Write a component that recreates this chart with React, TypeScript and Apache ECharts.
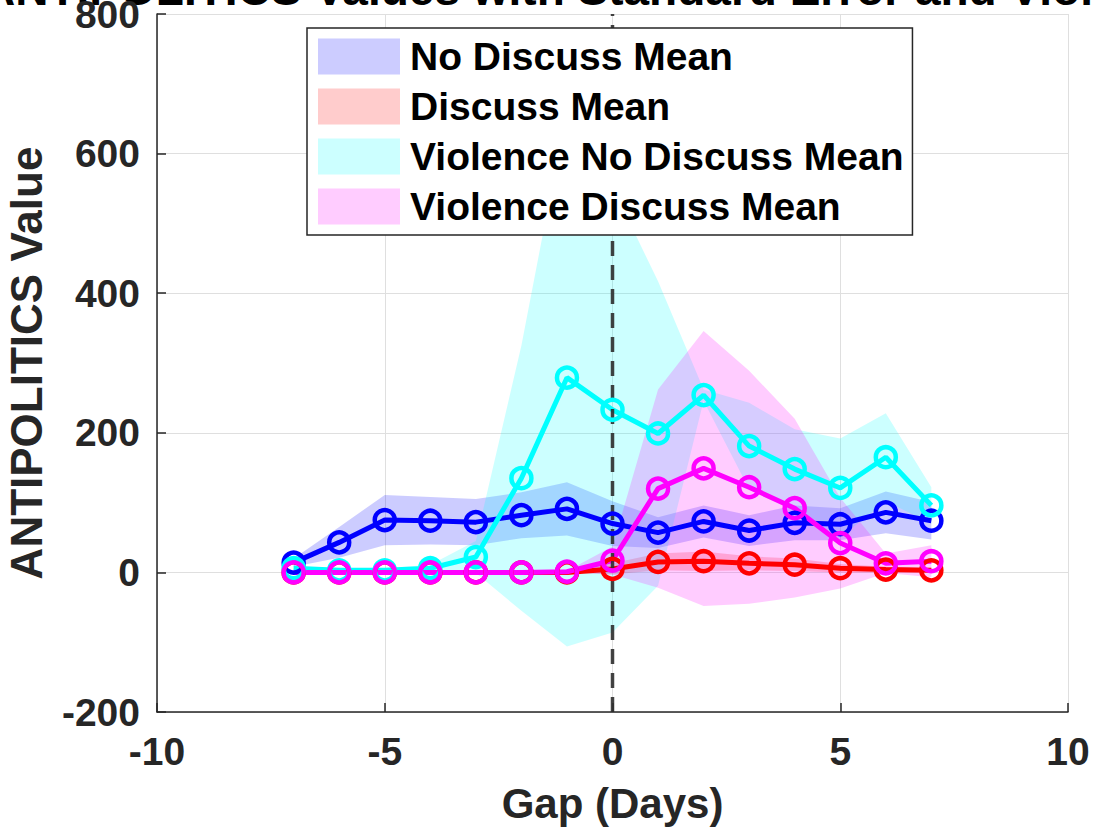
import React, { useEffect, useRef } from "react";
import * as echarts from "echarts";

const xs = [-7, -6, -5, -4, -3, -2, -1, 0, 1, 2, 3, 4, 5, 6, 7];

const noDiscussMean = [14, 43, 75, 74, 72, 82, 91, 70, 57, 73, 60, 71, 69, 86, 74];
const noDiscussSE = [6, 22, 36, 34, 33, 33, 38, 32, 22, 23, 22, 25, 23, 30, 27];

const discussMean = [0, 0, 0, 0, 0, 0, 0, 5, 15, 16, 13, 11, 6, 4, 3];
const discussSE = [0, 0, 0, 0, 0, 0, 0, 8, 12, 14, 10, 9, 6, 4, 3];

const violNoDiscussMean = [6, 3, 3, 6, 22, 135, 279, 233, 199, 254, 181, 148, 121, 165, 96];
const violNoDiscussSE = [3, 3, 3, 5, 23, 190, 385, 319, 218, 8, 62, 57, 71, 63, 26];

const violDiscussMean = [0, 0, 0, 0, 0, 0, 1, 17, 120, 149, 122, 92, 42, 13, 16];
const violDiscussSE = [0, 0, 0, 0, 0, 0, 1, 20, 142, 197, 167, 128, 65, 14, 23];

const legendNames = [
  "No Discuss Mean",
  "Discuss Mean",
  "Violence No Discuss Mean",
  "Violence Discuss Mean",
];

const xTicks = { min: -10, max: 10, interval: 5 };
const yTicks = { min: -200, max: 800, interval: 200 };

const titleText = "ANTIPOLITICS Values with Standard Error and Violence Days";

const SANS = '"Liberation Sans", Arial, Helvetica, sans-serif';
const AXCOL = "#262626";

function bandSeries(name: string, fill: string, solid: string, mean: number[], se: number[]) {
  const lower = mean.map((m, i) => m - se[i]);
  const upper = mean.map((m, i) => m + se[i]);
  return {
    type: "custom",
    name,
    silent: true,
    clip: true,
    itemStyle: { color: solid },
    encode: { x: 0, y: [1, 2] },
    data: xs.map((x, i) => [x, lower[i], upper[i]]),
    renderItem: (params: any, api: any) => {
      if (params.dataIndex !== 0) return null;
      const pts: number[][] = [];
      for (let i = 0; i < xs.length; i++) pts.push(api.coord([xs[i], upper[i]]));
      for (let i = xs.length - 1; i >= 0; i--) pts.push(api.coord([xs[i], lower[i]]));
      return { type: "polygon", shape: { points: pts }, style: { fill, stroke: "none" } };
    },
  };
}

function lineSeries(name: string, color: string, mean: number[]) {
  return {
    type: "line",
    name,
    data: xs.map((x, i) => [x, mean[i]]),
    symbol: "circle",
    symbolSize: 20,
    lineStyle: { color, width: 5 },
    itemStyle: { color: "rgba(0,0,0,0)", borderColor: color, borderWidth: 4.5 },
    emphasis: { disabled: true },
    silent: true,
  };
}

export default function App() {
  const ref = useRef<HTMLDivElement>(null);
  useEffect(() => {
    if (!ref.current) return;
    const chart = echarts.init(ref.current, undefined, { renderer: "svg" });
    const option: any = {
      animation: false,
      backgroundColor: "#ffffff",
      grid: { left: 157, right: 25, top: 14, bottom: 120, containLabel: false, outerBoundsMode: "none" },
      graphic: [
        {
          type: "text",
          x: -18,
          y: 12,
          z: 0,
          zlevel: 0,
          style: {
            text: titleText,
            fontSize: 46,
            fontWeight: "bold",
            fontFamily: SANS,
            fill: "#000000",
            verticalAlign: "bottom",
            align: "left",
          },
        },
      ],
      legend: {
        orient: "vertical",
        left: 307,
        top: 28,
        padding: [9, 9, 9, 11],
        itemWidth: 82,
        itemHeight: 36,
        itemGap: 11,
        icon: "rect",
        backgroundColor: "#ffffff",
        borderColor: AXCOL,
        borderWidth: 1.5,
        borderRadius: 0,
        selectedMode: false,
        textStyle: { fontSize: 39, fontWeight: "bold", fontFamily: SANS, color: "#000000", padding: [0, 0, 0, 5] },
        data: [
          { name: legendNames[0], itemStyle: { color: "#ccccff" } },
          { name: legendNames[1], itemStyle: { color: "#ffcccc" } },
          { name: legendNames[2], itemStyle: { color: "#ccffff" } },
          { name: legendNames[3], itemStyle: { color: "#ffccff" } },
        ],
        z: 50,
      },
      xAxis: {
        type: "value",
        min: xTicks.min,
        max: xTicks.max,
        interval: xTicks.interval,
        name: "Gap (Days)",
        nameLocation: "middle",
        nameGap: 70,
        nameTextStyle: { fontSize: 42, fontWeight: "bold", fontFamily: SANS, color: AXCOL },
        axisLine: { onZero: false, lineStyle: { color: AXCOL, width: 1.5 } },
        axisTick: { inside: true, length: 9, lineStyle: { color: AXCOL, width: 1.5 } },
        axisLabel: { fontSize: 39, fontWeight: "bold", fontFamily: SANS, color: AXCOL, margin: 20 },
        splitLine: { show: true, lineStyle: { color: "#dfdfdf", width: 1 } },
      },
      yAxis: {
        type: "value",
        min: yTicks.min,
        max: yTicks.max,
        interval: yTicks.interval,
        name: "ANTIPOLITICS Value",
        nameLocation: "middle",
        nameGap: 109,
        nameTextStyle: { fontSize: 44, fontWeight: "bold", fontFamily: SANS, color: AXCOL },
        axisLine: { show: true, onZero: false, lineStyle: { color: AXCOL, width: 1.5 } },
        axisTick: { show: true, inside: true, length: 9, lineStyle: { color: AXCOL, width: 1.5 } },
        axisLabel: { fontSize: 39, fontWeight: "bold", fontFamily: SANS, color: AXCOL, margin: 17 },
        splitLine: { show: true, lineStyle: { color: "#dfdfdf", width: 1 } },
      },
      series: [
        bandSeries(legendNames[0], "rgba(0,0,255,0.2)", "#ccccff", noDiscussMean, noDiscussSE),
        bandSeries(legendNames[1], "rgba(255,0,0,0.2)", "#ffcccc", discussMean, discussSE),
        bandSeries(legendNames[2], "rgba(0,255,255,0.2)", "#ccffff", violNoDiscussMean, violNoDiscussSE),
        bandSeries(legendNames[3], "rgba(255,0,255,0.2)", "#ffccff", violDiscussMean, violDiscussSE),
        lineSeries("nd-line", "#0000ff", noDiscussMean),
        lineSeries("d-line", "#ff0000", discussMean),
        lineSeries("vnd-line", "#00ffff", violNoDiscussMean),
        lineSeries("vd-line", "#ff00ff", violDiscussMean),
        {
          type: "line",
          name: "zero-line",
          data: [
            [0, yTicks.min],
            [0, yTicks.max],
          ],
          symbol: "none",
          silent: true,
          lineStyle: { color: "rgba(45,45,45,0.9)", width: 3.5, type: [15, 9] },
        },
      ],
    };
    chart.setOption(option);
    return () => chart.dispose();
  }, []);
  return <div ref={ref} style={{ width: 1093, height: 832, position: "absolute", left: 0, top: 0 }} />;
}
